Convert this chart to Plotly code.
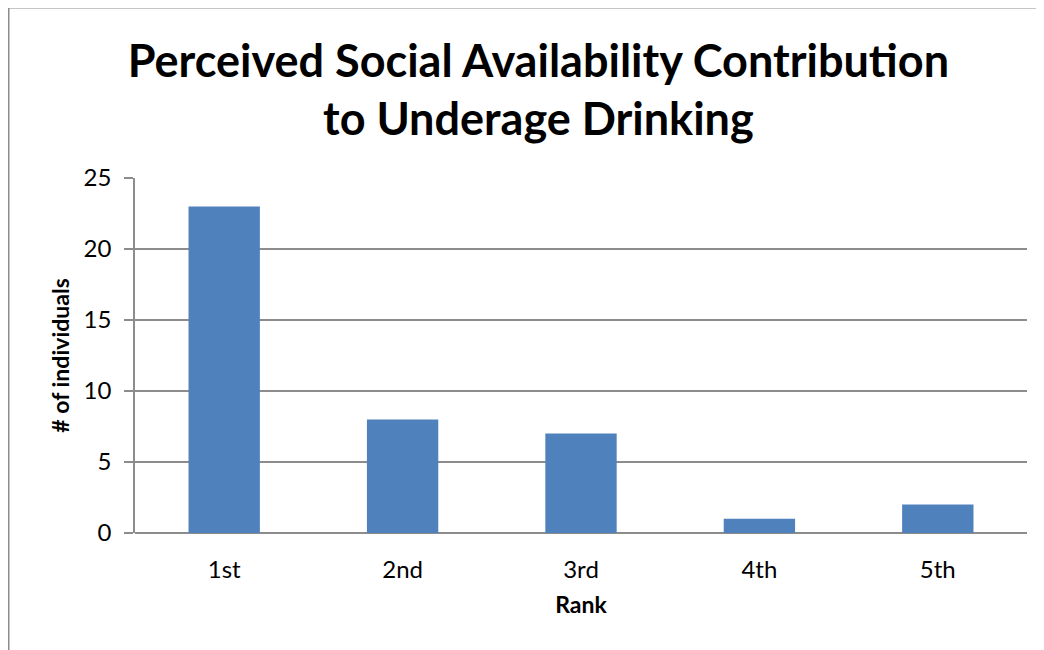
import plotly.graph_objects as go

ranks = ["1st", "2nd", "3rd", "4th", "5th"]
individuals = [23, 8, 7, 1, 2]

title_text = "Perceived Social Availability Contribution<br>to Underage Drinking"
x_title = "Rank"
y_title = "# of individuals"

grey = "#8c8c8c"
font_family = "Lato, 'Open Sans', sans-serif"

fig = go.Figure()
fig.add_trace(go.Bar(x=ranks, y=individuals, marker_color="#4f81bd", marker_line_width=0))

# page body adds 8px margin, so figure is 8px smaller and shifted
# plot area in figure pixels: left 127, top 170, 892 x 355
pw, ph = 892, 355
fig.add_shape(type="rect", xref="paper", yref="paper",
              x0=(0.5 - 127) / pw, x1=(1060 - 127) / pw,
              y0=(525 - 670) / ph, y1=(525 + 0.5) / ph,
              line=dict(color=grey, width=2), layer="below")

fig.update_layout(
    width=1036, height=642,
    margin=dict(l=127, r=17, t=170, b=117),
    paper_bgcolor="white", plot_bgcolor="white",
    font=dict(family=font_family, color="black", size=24),
    title=dict(text="<b>" + title_text + "</b>", x=0.512, xanchor="center",
               y=0.893, yanchor="middle", font=dict(size=45, family=font_family)),
    bargap=0.6,
    showlegend=False,
)
fig.update_xaxes(showline=False, ticks="", tickfont=dict(size=24), ticklabelstandoff=20,
                 title=dict(text="<b>" + x_title + "</b>", font=dict(size=23), standoff=14))
fig.update_yaxes(range=[0, 25], dtick=5, showgrid=True, gridcolor=grey, gridwidth=1.5,
                 showline=True, linecolor=grey, linewidth=1.5,
                 ticks="outside", ticklen=9, tickcolor=grey, tickwidth=1.5,
                 zeroline=True, zerolinecolor=grey, zerolinewidth=1.5,
                 tickfont=dict(size=24), ticklabelstandoff=8,
                 title=dict(text="<b>" + y_title + "</b>", font=dict(size=23), standoff=8))

fig.write_html("out.html")
